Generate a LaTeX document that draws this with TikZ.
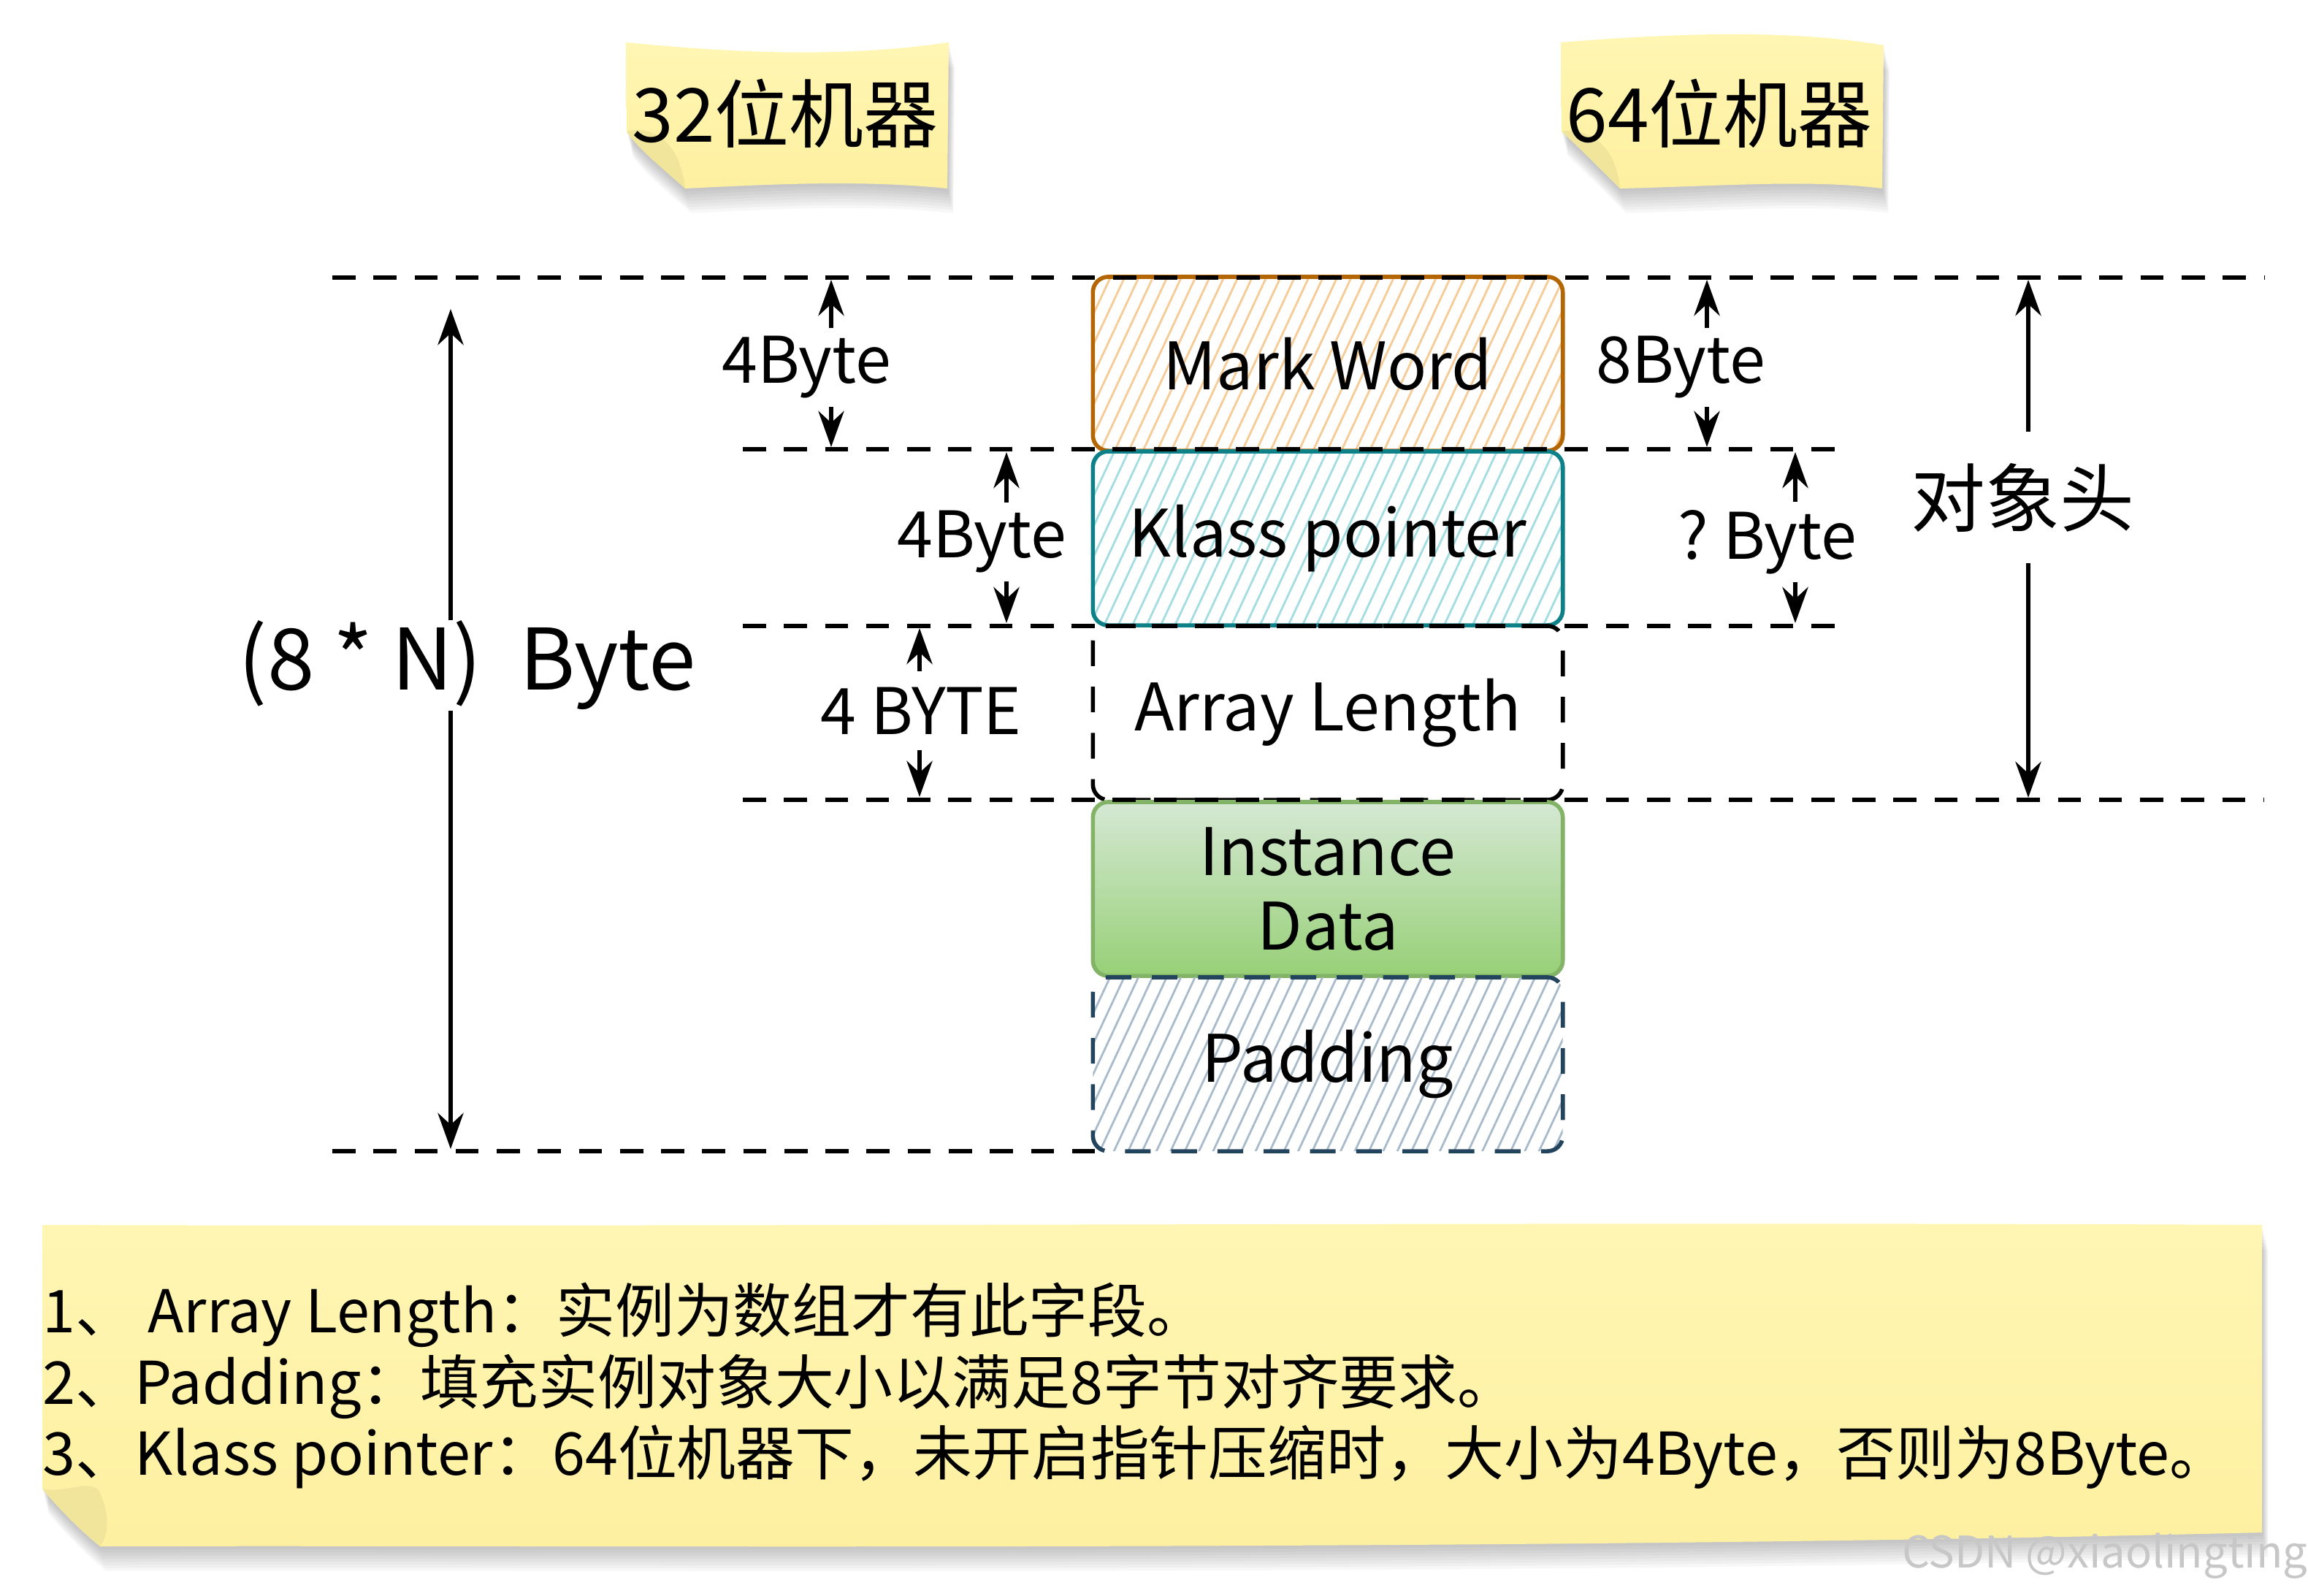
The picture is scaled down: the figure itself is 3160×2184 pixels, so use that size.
\documentclass[tikz,border=0pt]{standalone}
\usepackage{fontspec}
\setmainfont{Noto Sans CJK SC}
\usetikzlibrary{arrows.meta,patterns.meta}

\definecolor{markline}{HTML}{B46504}
\definecolor{markfill}{HTML}{F7CB96}
\definecolor{klassline}{HTML}{0E8088}
\definecolor{klassfill}{HTML}{A3DDE1}
\definecolor{datatop}{HTML}{D5E8D4}
\definecolor{databot}{HTML}{97D077}
\definecolor{dataline}{HTML}{82B366}
\definecolor{padline}{HTML}{23445D}
\definecolor{padfill}{HTML}{A9BBCA}
\definecolor{notetop}{HTML}{FFF6B4}
\definecolor{notebot}{HTML}{FEF0A0}
\definecolor{notecurl}{HTML}{F1E59C}

\newcommand{\boxfont}{\fontsize{25.5}{29}\selectfont}
\newcommand{\lblfont}{\fontsize{25}{30}\selectfont}
\newcommand{\titlefont}{\fontsize{29}{33}\selectfont}
\newcommand{\notefont}{\fontsize{23}{27}\selectfont}

\begin{document}
\begin{tikzpicture}[x=0.01cm, y=-0.01cm,
    guide/.style={dash pattern=on 9pt off 7pt, line width=1.5pt},
    box/.style={minimum width=6.43cm, minimum height=2.38cm, rounded corners=6pt,
      line width=1.6pt, align=center, font=\boxfont},
    hatch/.style={pattern={Lines[angle=65,distance=5pt,line width=.8pt]}},
    arr/.style={-{Stealth[length=14pt,width=10pt]}, line width=1.6pt},
    lbl/.style={font=\lblfont, inner sep=3pt},
    note/.style={top color=notetop, bottom color=notebot},
    notea/.style={insert path={(857,58) .. controls (1000,72) and (1150,80) .. (1299,58)
      -- (1297,258) .. controls (1180,246) and (1060,252) .. (938,258)
      .. controls (905,228) and (875,205) .. (858,180) -- cycle}},
    noteb/.style={insert path={(2137,58) .. controls (2300,45) and (2450,40) .. (2579,62)
      -- (2577,258) .. controls (2480,245) and (2350,255) .. (2218,258)
      .. controls (2185,225) and (2155,195) .. (2138,180) -- cycle}},
    notec/.style={insert path={(58,1677) .. controls (1000,1680) and (2200,1672) .. (3097,1677)
      -- (3097,2098) .. controls (2000,2125) and (800,2115) .. (137,2117)
      .. controls (110,2095) and (80,2065) .. (58,2038) -- cycle}}]
  \useasboundingbox (0,0) rectangle (3160,2184);

  % sticky notes
  \foreach \s in {1,...,8} {
    \fill[black, opacity=0.03, yshift=-\s*1.2pt, xshift=\s*0.3pt, notea];
    \fill[black, opacity=0.03, yshift=-\s*1.2pt, xshift=\s*0.3pt, noteb];
    \fill[black, opacity=0.03, yshift=-\s*1.2pt, xshift=\s*0.3pt, notec];
  }
  \shade[note, notea];
  \shade[note, noteb];
  \shade[note, notec];
  \fill[notecurl] (858,180) .. controls (885,172) and (930,185) .. (938,258)
    .. controls (905,228) and (875,205) .. (858,180);
  \fill[notecurl] (2138,180) .. controls (2165,175) and (2212,190) .. (2218,258)
    .. controls (2185,225) and (2155,195) .. (2138,180);
  \fill[notecurl] (58,2038) .. controls (90,2045) and (120,2025) .. (135,2040)
    .. controls (150,2070) and (150,2100) .. (137,2117)
    .. controls (110,2095) and (80,2065) .. (58,2038);

  \node[font=\titlefont] (t32) at (1075,155) {32位机器};
  \node[font=\titlefont] (t64) at (2354,155) {64位机器};

  % object layout
  \node[box, draw=markline, hatch, pattern color=markfill] (mark) at (1818,498) {Mark Word};
  \node[box, draw=klassline, hatch, pattern color=klassfill] (klass) at (1818,737) {Klass pointer};
  \node[box, draw, dash pattern=on 10pt off 8pt] (alen) at (1818,976) {Array Length};
  \node[box, draw=dataline, top color=datatop, bottom color=databot] (data) at (1818,1217) {Instance\\Data};
  \node[box, draw=padline, dash pattern=on 10pt off 8pt, hatch, pattern color=padfill] (pad) at (1818,1457) {Padding};

  \draw[guide] (455,380) -- (3100,380);
  \draw[guide] (1017,615) -- (2528,615);
  \draw[guide] (1017,857) -- (2528,857);
  \draw[guide] (1017,1095) -- (3100,1095);
  \draw[guide] (455,1576) -- (1500,1576);

  % 32 bit sizes
  \node[font=\fontsize{33}{37}\selectfont, inner sep=0pt] (total) at (640,911) {(8 * N)\ \ Byte};
  \coordinate (totaltop) at (617,423);
  \coordinate (totalbot) at (617,1573);
  \draw[arr] (total.north -| totaltop) -- (totaltop);
  \draw[arr] (total.south -| totalbot) -- (totalbot);

  \node[lbl] (mark32) at (1104,503) {4Byte};
  \coordinate (mark32t) at (1138,383);
  \coordinate (mark32b) at (1138,612);
  \draw[arr] (mark32.north -| mark32t) -- (mark32t);
  \draw[arr] (mark32.south -| mark32b) -- (mark32b);

  \node[lbl] (klass32) at (1344,742) {4Byte};
  \coordinate (klass32t) at (1378,619);
  \coordinate (klass32b) at (1378,853);
  \draw[arr] (klass32.north -| klass32t) -- (klass32t);
  \draw[arr] (klass32.south -| klass32b) -- (klass32b);

  \node[lbl, inner ysep=6pt] (alen32) at (1261,973) {4 BYTE};
  \coordinate (alen32t) at (1259,860);
  \coordinate (alen32b) at (1259,1091);
  \draw[arr] (alen32.north -| alen32t) -- (alen32t);
  \draw[arr] (alen32.south -| alen32b) -- (alen32b);

  % 64 bit sizes
  \node[lbl] (mark64) at (2301,503) {8Byte};
  \coordinate (mark64t) at (2337,383);
  \coordinate (mark64b) at (2337,612);
  \draw[arr] (mark64.north -| mark64t) -- (mark64t);
  \draw[arr] (mark64.south -| mark64b) -- (mark64b);

  \node[lbl] (klass64) at (2420,742) {?\ Byte};
  \coordinate (klass64t) at (2458,619);
  \coordinate (klass64b) at (2458,853);
  \draw[arr] (klass64.north -| klass64t) -- (klass64t);
  \draw[arr] (klass64.south -| klass64b) -- (klass64b);

  \node[font=\titlefont, inner xsep=2pt, inner ysep=12pt] (head) at (2769,681) {对象头};
  \coordinate (headtop) at (2777,383);
  \coordinate (headbot) at (2777,1092);
  \draw[arr] (head.north -| headtop) -- (headtop);
  \draw[arr] (head.south -| headbot) -- (headbot);

  % remarks
  \node[font=\notefont, anchor=west, inner sep=0pt] (rem1) at (58,1800) {1、 Array Length：实例为数组才有此字段。};
  \node[font=\notefont, anchor=west, inner sep=0pt] (rem2) at (58,1898) {2、Padding：填充实例对象大小以满足8字节对齐要求。};
  \node[font=\notefont, anchor=west, inner sep=0pt] (rem3) at (58,1995) {3、Klass pointer：64位机器下，未开启指针压缩时，大小为4Byte，否则为8Byte。};

  \node[font=\fontsize{17}{20}\selectfont, text=black!22, anchor=east, inner sep=0pt] (wmark) at (3160,2130) {CSDN @xiaolingting};
\end{tikzpicture}
\end{document}
